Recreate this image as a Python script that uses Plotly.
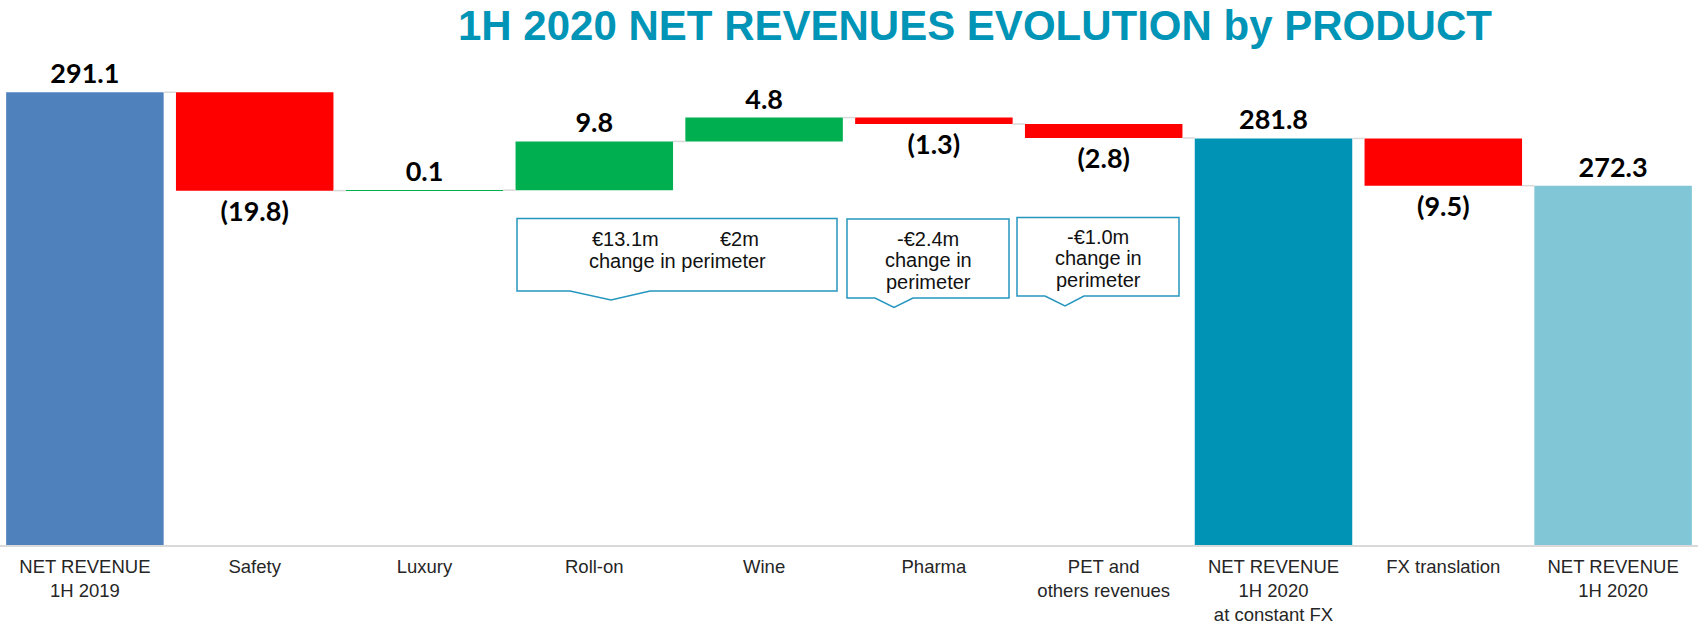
import plotly.graph_objects as go

# ---------------- data ----------------
categories = ["NET REVENUE<br>1H 2019", "Safety", "Luxury", "Roll-on", "Wine", "Pharma",
              "PET and<br>others revenues", "NET REVENUE<br>1H 2020<br>at constant FX",
              "FX translation", "NET REVENUE<br>1H 2020"]
values = [291.1, -19.8, 0.1, 9.8, 4.8, -1.3, -2.8, 281.8, -9.5, 272.3]
measures = ["total", "relative", "relative", "relative", "relative", "relative",
            "relative", "total", "relative", "total"]
bar_colors = ["#4F81BD", "#FF0000", "#00B050", "#00B050", "#00B050", "#FF0000",
              "#FF0000", "#0093B6", "#FF0000", "#80C6D6"]

title_text = "1H 2020 NET REVENUES EVOLUTION by PRODUCT"
callouts = [
    ["€13.1m", "€2m", "change in perimeter"],
    ["-€2.4m", "change in", "perimeter"],
    ["-€1.0m", "change in", "perimeter"],
]

# ---------------- layout constants ----------------
W, H = 1704, 627
ML, MR, MT, MB = 0, 6, 48, 82
PW, PH = W - ML - MR, H - MT - MB
PLOT_BOTTOM = H - MB
Y_MIN, Y_MAX = 200, 300
BAR_W = 0.9276


def pxx(px):
    return (px - ML) / PW


def pxy(py):
    return (PLOT_BOTTOM - py) / PH


# ---------------- waterfall geometry from data ----------------
x_idx = list(range(len(categories)))
bases, heights, levels, labels = [], [], [], []
level = 0.0
for v, m in zip(values, measures):
    if m == "total":
        bases.append(0)
        heights.append(v)
        level = v
    else:
        bases.append(level)
        heights.append(v)
        level = level + v
    levels.append(level)
    labels.append(f"{v:.1f}" if v >= 0 else f"({-v:.1f})")

fig = go.Figure()

# connectors
cx, cy = [], []
for i in range(len(categories) - 1):
    cx += [x_idx[i] + BAR_W / 2, x_idx[i + 1] - BAR_W / 2, None]
    cy += [levels[i], levels[i], None]
fig.add_trace(go.Scatter(x=cx, y=cy, mode="lines",
                         line=dict(color="#D9D9D9", width=1.5),
                         hoverinfo="skip", showlegend=False))

fig.add_trace(go.Bar(
    x=x_idx, y=heights, base=bases, width=BAR_W,
    marker=dict(color=bar_colors, line=dict(width=0)),
    text=labels, textposition="outside", constraintext="none", cliponaxis=False,
    textfont=dict(family="Lato", size=27, color="#000000", weight="bold"),
    showlegend=False,
))

# ---------------- callout boxes ----------------
box_geo = [
    # left, right, top, bottom, tail_l, tail_x, tail_r, tail_y
    (517, 837, 218.5, 291, 570, 611, 650, 300),
    (847, 1009, 219, 298, 875, 894, 913, 307.5),
    (1017, 1179, 217.5, 296, 1045, 1065, 1084, 306),
]
shapes = []
for (l, r, t, b, tl, tx, tr, ty) in box_geo:
    pts = [(l, t), (r, t), (r, b), (tr, b), (tx, ty), (tl, b), (l, b)]
    path = "M " + " L ".join(f"{pxx(a):.5f},{pxy(c):.5f}" for a, c in pts) + " Z"
    shapes.append(dict(type="path", path=path, xref="paper", yref="paper",
                       line=dict(color="#2596BE", width=1.5), fillcolor="white",
                       layer="above"))

annotations = []
cfont = dict(family="Liberation Sans, Arial", size=20, color="#111111")
# box 1 lines
annotations.append(dict(text=callouts[0][0], x=pxx(625.5), y=pxy(238.5), xref="paper", yref="paper",
                        showarrow=False, font=cfont, xanchor="center", yanchor="middle"))
annotations.append(dict(text=callouts[0][1], x=pxx(739), y=pxy(238.5), xref="paper", yref="paper",
                        showarrow=False, font=cfont, xanchor="center", yanchor="middle"))
annotations.append(dict(text=callouts[0][2], x=pxx(677), y=pxy(260.5), xref="paper", yref="paper",
                        showarrow=False, font=cfont, xanchor="center", yanchor="middle"))
for k, (cxp, ys) in enumerate([(928, [238.5, 260, 281.5]), (1098, [236.5, 258, 279.5])]):
    for line, yy in zip(callouts[k + 1], ys):
        annotations.append(dict(text=line, x=pxx(cxp), y=pxy(yy), xref="paper", yref="paper",
                                showarrow=False, font=cfont, xanchor="center", yanchor="middle"))

annotations.append(dict(text=title_text, x=pxx(975), y=pxy(26), xref="paper", yref="paper",
                        showarrow=False, xanchor="center", yanchor="middle",
                        font=dict(family="Liberation Sans, Arial", size=42, color="#0094B6",
                                  weight="bold")))

fig.update_layout(
    width=W, height=H,
    margin=dict(l=ML, r=MR, t=MT, b=MB, pad=0, autoexpand=False),
    paper_bgcolor="white", plot_bgcolor="white",
    shapes=shapes, annotations=annotations,
    xaxis=dict(range=[-0.5, len(categories) - 0.5], tickvals=x_idx, ticktext=categories,
               showgrid=False, zeroline=False, showline=True, linecolor="#D9D9D9", linewidth=2,
               ticks="", ticklabelstandoff=4, automargin=False,
               tickfont=dict(family="Liberation Sans, Arial", size=18.5, color="#262626")),
    yaxis=dict(range=[Y_MIN, Y_MAX], visible=False, showgrid=False, zeroline=False,
               automargin=False),
    showlegend=False,
)

fig.write_html("out.html", config={"displayModeBar": False},
               post_script="document.body.style.margin='0';document.body.style.overflow='hidden';")
